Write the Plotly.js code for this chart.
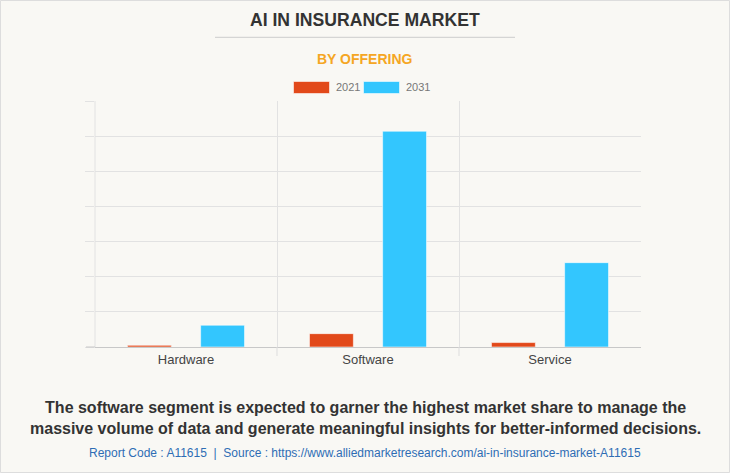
<!DOCTYPE html>
<html>
<head>
<meta charset="utf-8">
<script src="https://cdn.plot.ly/plotly-3.0.1.min.js"></script>
<style>
html,body{margin:0;padding:0;background:#F9F8F4;}
#chart{width:730px;height:473px;}
</style>
</head>
<body>
<div id="chart"></div>
<script>
// Data (USD billion)
const categories = ["Hardware", "Software", "Service"];
const years = ["2021", "2031"];
const values2021 = [0.24, 1.9, 0.63];
const values2031 = [3.1, 30.7, 12.0];
const colors = ["#E2491A", "#33C6FE"];

const W = 730, H = 473;
const L = 95, R = 641, T = 101, B = 347;
const px = x => (x - L) / (R - L);
const py = y => (B - y) / (B - T);

const traces = [values2021, values2031].map((v, i) => ({
  type: "bar",
  x: categories,
  y: v,
  name: years[i],
  marker: {color: colors[i], line: {color: "rgba(255,255,255,0.55)", width: 1}},
  hoverinfo: "x+y+name"
}));

const font = "Liberation Sans, Arial, sans-serif";
const annotations = [
  {text: "<b>AI IN INSURANCE MARKET</b>", x: px(365), y: py(20), font: {size: 17.6, color: "#333333", family: font}},
  {text: "<b>BY OFFERING</b>", x: px(365), y: py(59), font: {size: 14, color: "#F5A623", family: font}},
  {text: years[0], x: px(334), y: py(87.5), xanchor: "left", font: {size: 11, color: "#777777", family: font}},
  {text: years[1], x: px(404), y: py(87.5), xanchor: "left", font: {size: 11, color: "#777777", family: font}},
  {text: "<b>The software segment is expected to garner the highest market share to manage the<br>massive volume of data and generate meaningful insights for better-informed decisions.</b>",
   x: px(365), y: py(418), font: {size: 16, color: "#333333", family: font}},
  {text: "Report Code : A11615  |  Source : https://www.alliedmarketresearch.com/ai-in-insurance-market-A11615",
   x: px(365), y: py(453), font: {size: 12, color: "#2E6DB4", family: font}}
].map(a => Object.assign({xref: "paper", yref: "paper", showarrow: false, xanchor: "center", yanchor: "middle"}, a));

const shapes = [
  {type: "rect", xref: "paper", yref: "paper", x0: px(0.5), x1: px(729.5), y0: py(0.5), y1: py(472.5), line: {color: "#DDDDDD", width: 1}, layer: "below"},
  {type: "line", xref: "paper", yref: "paper", x0: px(215), x1: px(515), y0: py(37.3), y1: py(37.3), line: {color: "#CCCCCC", width: 1}},
  {type: "line", xref: "paper", yref: "paper", x0: 0, x1: 0, y0: 0, y1: 1, line: {color: "#E2E2E2", width: 1}, layer: "below"},
  {type: "line", xref: "paper", yref: "paper", x0: px(86), x1: 0, y0: 0, y1: 0, line: {color: "#C8C8C8", width: 1}},
  {type: "rect", xref: "paper", yref: "paper", x0: px(293.5), x1: px(329.5), y0: py(81.5), y1: py(93.5), fillcolor: colors[0], line: {color: "rgba(255,255,255,0.55)", width: 1}},
  {type: "rect", xref: "paper", yref: "paper", x0: px(363.5), x1: px(399.5), y0: py(81.5), y1: py(93.5), fillcolor: colors[1], line: {color: "rgba(255,255,255,0.55)", width: 1}}
];
// tick marks below the baseline at inner category boundaries
for (let i = 0; i < categories.length - 1; i++) {
  shapes.push({type: "line", xref: "x", yref: "paper", x0: i + 0.5, x1: i + 0.5, y0: py(356), y1: 0, line: {color: "#DDDDDD", width: 1}});
}

const layout = {
  width: W, height: H,
  margin: {l: L, r: W - R, t: T, b: H - B, pad: 0},
  paper_bgcolor: "#F9F8F4",
  plot_bgcolor: "#F9F8F4",
  showlegend: false,
  barmode: "group",
  bargap: 0.196,
  bargroupgap: 0.4,
  font: {family: font},
  xaxis: {
    type: "category",
    tickson: "boundaries",
    ticks: "",
    showgrid: true, gridcolor: "#E2E2E2", gridwidth: 1,
    showline: true, linecolor: "#C8C8C8", linewidth: 1,
    tickfont: {size: 13, color: "#444444", family: font},
    fixedrange: true
  },
  yaxis: {
    range: [0, 35], dtick: 5,
    showticklabels: false,
    ticks: "outside", ticklen: 9, tickcolor: "#E2E2E2",
    showgrid: true, gridcolor: "#E2E2E2", gridwidth: 1,
    zeroline: false, showline: false,
    fixedrange: true
  },
  annotations: annotations,
  shapes: shapes
};

Plotly.newPlot("chart", traces, layout, {displayModeBar: false, staticPlot: true});
</script>
</body>
</html>
